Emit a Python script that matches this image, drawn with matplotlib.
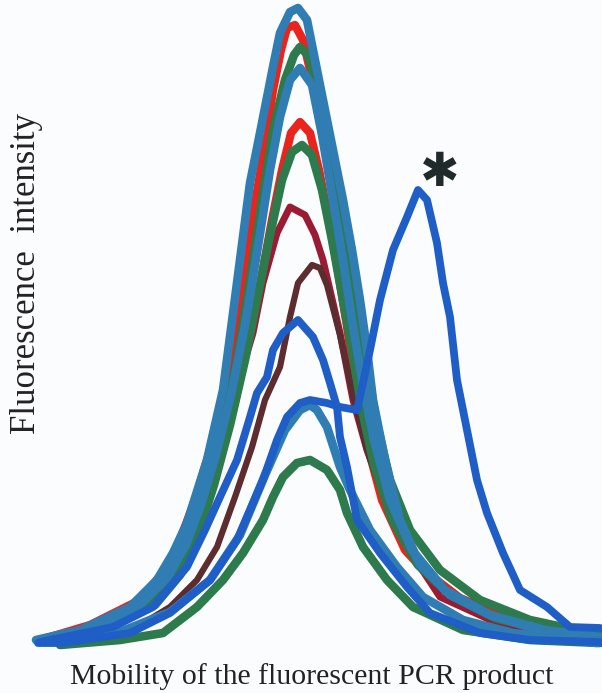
"""Overlaid capillary electrophoresis traces of fluorescent PCR products."""

import matplotlib
matplotlib.use("Agg")
import matplotlib.pyplot as plt

# mobility (arbitrary units) and fluorescence intensity (arbitrary units)
teal_tall_x = [36, 80, 130, 157, 173, 187, 207, 223, 237, 250, 260, 273, 280, 290, 298, 307, 313, 323, 333, 343,
               352, 360, 367, 373, 385, 400, 420, 450, 490, 540, 600]
teal_tall_y = [0, 10, 33, 60, 87, 117, 180, 250, 357, 457, 507, 573, 607, 628, 632, 620, 590, 540, 490, 440,
               390, 340, 290, 240, 180, 120, 75, 45, 25, 10, 2]

red_tall_x = [40, 90, 140, 165, 180, 195, 210, 225, 240, 254, 264, 273, 281, 287, 295, 303, 310, 318, 327, 336,
              344, 352, 360, 368, 382, 405, 430, 460, 500, 550, 600]
red_tall_y = [0, 15, 40, 70, 100, 140, 190, 250, 340, 430, 490, 550, 590, 612, 615, 600, 570, 530, 480, 430,
              380, 320, 260, 210, 150, 100, 65, 42, 25, 12, 5]

green_tall_x = [45, 100, 145, 172, 192, 208, 223, 237, 250, 262, 273, 285, 294, 300, 308, 318, 328, 338, 348, 357,
                366, 376, 390, 410, 440, 480, 530, 600]
green_tall_y = [-2, 12, 35, 65, 105, 150, 210, 280, 360, 440, 510, 560, 585, 593, 585, 550, 500, 450, 395, 340,
                280, 220, 160, 110, 70, 40, 20, 5]

teal_second_x = [40, 95, 140, 167, 186, 201, 216, 231, 246, 259, 270, 280, 290, 300, 312, 322, 333, 343, 352, 362,
                 374, 390, 412, 445, 490, 545, 600]
teal_second_y = [-2, 12, 35, 62, 95, 135, 185, 245, 320, 400, 470, 523, 560, 572, 555, 505, 440, 380, 320, 260,
                 200, 140, 90, 50, 25, 10, 3]

red_mid_x = [45, 100, 150, 177, 197, 214, 230, 246, 261, 272, 282, 291, 300, 310, 319, 328, 337, 346, 355, 366,
             382, 405, 440, 480, 530, 600]
red_mid_y = [0, 15, 40, 70, 110, 160, 220, 290, 360, 420, 470, 507, 518, 507, 470, 425, 375, 320, 260, 200,
             140, 90, 52, 30, 15, 5]

green_mid_x = [50, 105, 155, 180, 198, 214, 230, 245, 258, 270, 282, 292, 302, 312, 322, 332, 342, 352, 362, 374,
               392, 418, 450, 495, 550, 600]
green_mid_y = [-2, 10, 35, 65, 105, 155, 215, 280, 345, 405, 460, 488, 495, 485, 450, 400, 345, 290, 230, 175,
               120, 75, 45, 22, 8, 2]

maroon_x = [55, 120, 160, 185, 205, 222, 235, 245, 253, 263, 277, 290, 305, 315, 323, 340, 353, 367, 380, 407,
            440, 497, 563, 600]
maroon_y = [-2, 18, 48, 88, 135, 185, 235, 280, 307, 357, 407, 433, 425, 405, 380, 307, 240, 190, 155, 93,
            43, 17, 3, 0]

brown_x = [100, 137, 170, 197, 217, 235, 252, 265, 280, 290, 298, 312, 320, 327, 340, 353, 367, 385, 410, 445,
           500, 560, 600]
brown_y = [0, 13, 33, 60, 93, 143, 193, 240, 273, 323, 357, 375, 372, 355, 305, 245, 190, 140, 90, 48,
           20, 5, 0]

blue_x = [40, 113, 153, 187, 205, 220, 237, 250, 257, 267, 273, 283, 298, 313, 323, 330, 337, 340, 347, 357,
          380, 407, 430, 480, 530, 600]
blue_y = [-2, 13, 33, 73, 110, 143, 180, 223, 247, 263, 290, 307, 320, 303, 280, 257, 233, 203, 173, 120,
          87, 53, 27, 7, 0, -2]

teal_low_x = [45, 120, 170, 210, 240, 265, 285, 300, 310, 317, 327, 340, 350, 370, 397, 423, 463, 513, 597]
teal_low_y = [-2, 8, 28, 60, 105, 165, 210, 230, 235, 230, 213, 173, 150, 110, 73, 43, 20, 7, -3]

green_low_x = [60, 120, 163, 197, 223, 243, 263, 273, 283, 297, 310, 327, 340, 347, 363, 387, 413, 463, 530, 600]
green_low_y = [-5, 0, 7, 33, 60, 87, 120, 143, 163, 177, 180, 170, 150, 127, 93, 60, 33, 10, 0, -3]

# the trace with the extra product (marked with an asterisk)
blue_double_x = [38, 63, 130, 170, 210, 237, 263, 277, 287, 300, 310, 327, 340, 357, 363, 370, 380, 393, 407, 418,
                 427, 437, 443, 450, 457, 467, 477, 487, 503, 520, 547, 570, 600]
blue_double_y = [-3, -3, 7, 27, 60, 100, 160, 200, 223, 237, 240, 237, 233, 230, 257, 290, 340, 390, 423, 450,
                 440, 397, 357, 323, 260, 210, 160, 127, 87, 50, 33, 13, 12]

star_x = 440
star_y = 466

TEAL = "#2f7db3"
RED = "#e8241c"
GREEN = "#2d7a4c"
MAROON = "#9a1c34"
BROWN = "#5c2c2e"
BLUE = "#1f5ec6"


def main() -> None:
    fig = plt.figure(figsize=(6.02, 6.93), dpi=100, facecolor="#fbfcfd")
    ax = fig.add_axes([0, 0, 1, 1])
    ax.set_facecolor("#fbfcfd")
    ax.set_xlim(0, 602)
    ax.set_ylim(-53, 640)
    ax.axis("off")

    traces = [
        (red_tall_x, red_tall_y, RED, 6.0),
        (red_mid_x, red_mid_y, RED, 6.0),
        (maroon_x, maroon_y, MAROON, 5.0),
        (brown_x, brown_y, BROWN, 4.5),
        (green_mid_x, green_mid_y, GREEN, 6.2),
        (green_tall_x, green_tall_y, GREEN, 6.2),
        (green_low_x, green_low_y, GREEN, 6.2),
        (teal_low_x, teal_low_y, TEAL, 6.2),
        (teal_second_x, teal_second_y, TEAL, 6.2),
        (teal_tall_x, teal_tall_y, TEAL, 6.2),
        (blue_x, blue_y, BLUE, 5.6),
        (blue_double_x, blue_double_y, BLUE, 5.6),
    ]
    for xs, ys, color, width in traces:
        ax.plot(xs, ys, color=color, linewidth=width, solid_joinstyle="round",
                solid_capstyle="round", clip_on=False)

    ax.text(star_x, star_y, "\u2731", fontsize=34, color="#1f2a2a", ha="center", va="center",
            family=["DejaVu Sans"])

    fig.text(27 / 602, 1 - 274 / 693, "Fluorescence  intensity", rotation=90, ha="center", va="center",
             fontsize=25, family=["Liberation Serif"], color="#222222")
    fig.text(312 / 602, 1 - 677 / 693, "Mobility of the fluorescent PCR product", ha="center", va="center",
             fontsize=21.5, family=["Liberation Serif"], color="#222222")

    fig.savefig("out.png", dpi=100, facecolor=fig.get_facecolor())
    plt.close(fig)


if __name__ == "__main__":
    main()
